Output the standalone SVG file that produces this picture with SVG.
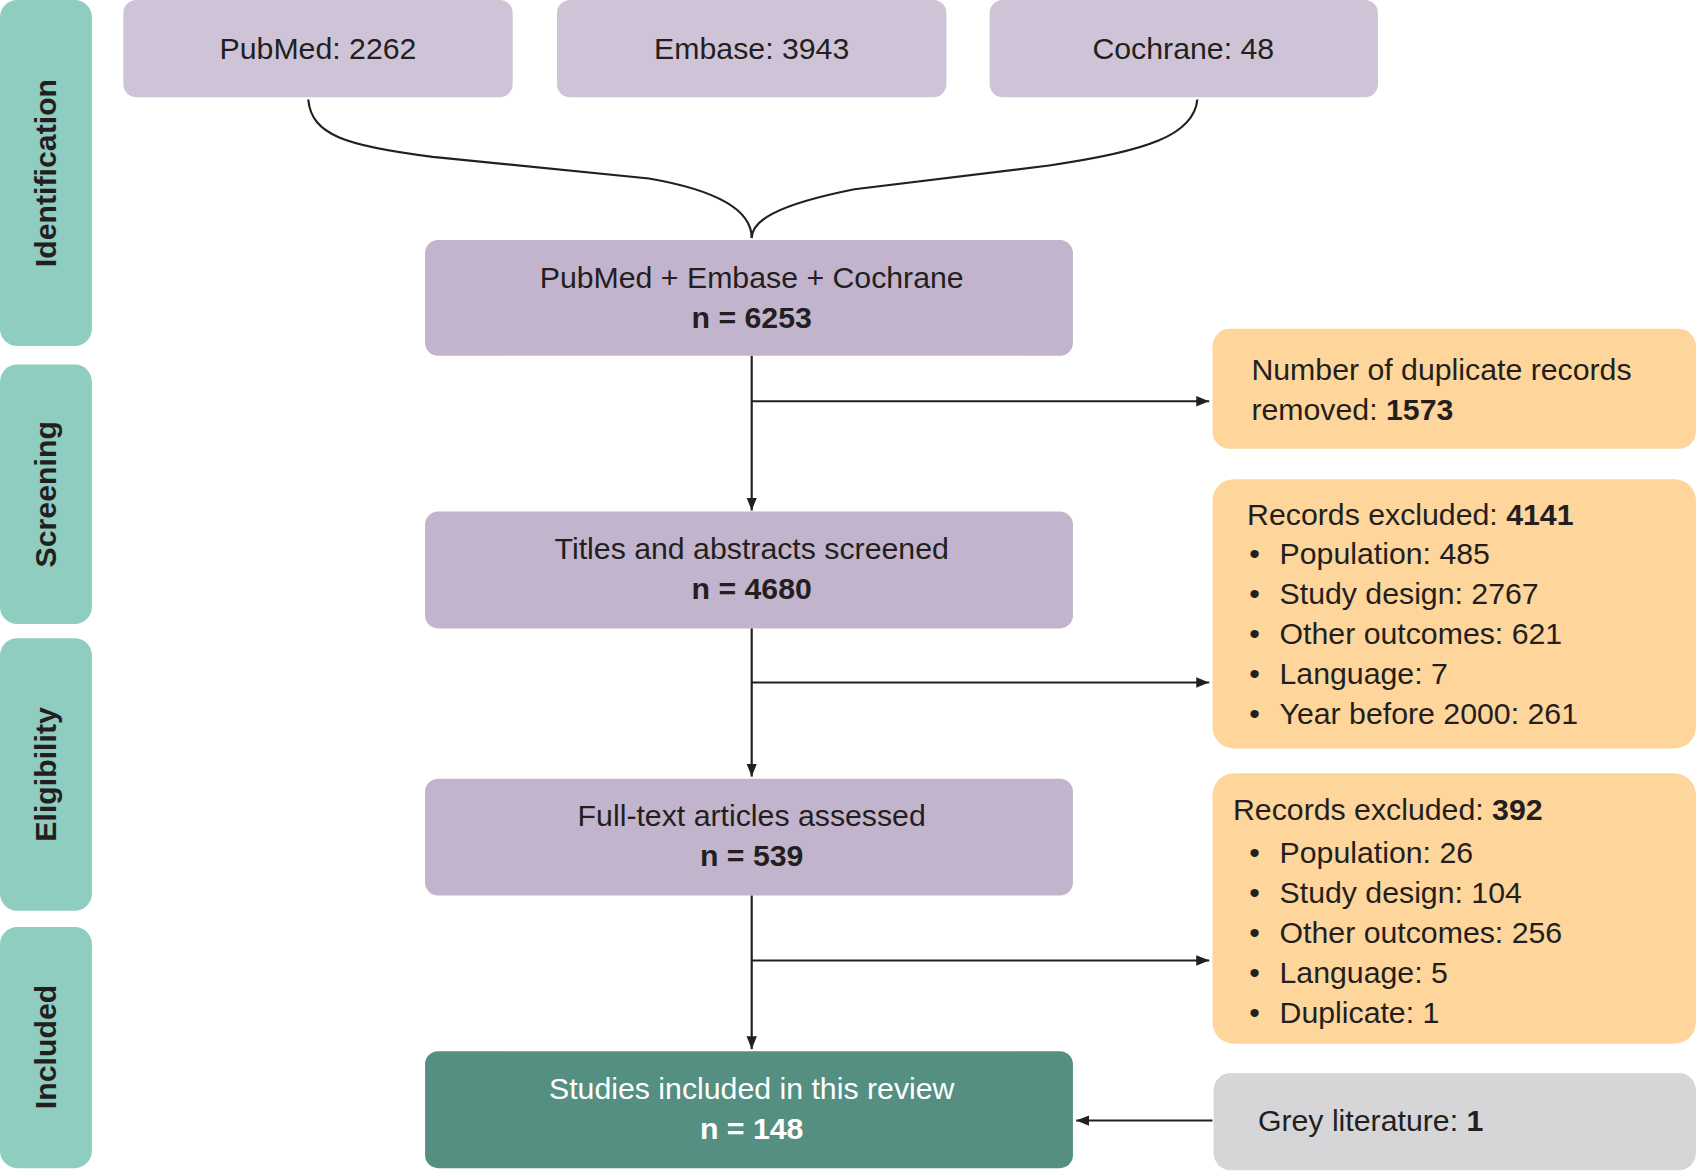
<svg xmlns="http://www.w3.org/2000/svg" width="1696" height="1171" viewBox="0 0 1696 1171">
<defs>
<style>
text{font-family:"Liberation Sans",Arial,sans-serif;font-size:28px;fill:#231f20}
.c{text-anchor:middle}
.b{font-weight:bold}
.side{fill:#8fcdc1}
.src{fill:#cfc4d7}
.main{fill:#c2b4cd}
.ex{fill:#fed59a}
.ln{stroke:#231f20;stroke-width:2;fill:none}
.w{fill:#fff}
</style>
<marker id="ar" viewBox="0 0 10 10" refX="10" refY="5" markerWidth="12" markerHeight="12" markerUnits="userSpaceOnUse" orient="auto"><path d="M0,1 L10,5 L0,9 Z" fill="#231f20"/></marker>
</defs>
<rect width="1696" height="1171" fill="#fff"/>
<g transform="scale(1.0816)">
<g id="phases">
<rect class="side" x="0" y="0" width="85" height="320" rx="16"/>
<rect class="side" x="0" y="337" width="85" height="240" rx="16"/>
<rect class="side" x="0" y="590" width="85" height="252" rx="16"/>
<rect class="side" x="0" y="857" width="85" height="223" rx="16"/>
<text class="c b" transform="translate(52,160) rotate(-90)">Identification</text>
<text class="c b" transform="translate(52,457) rotate(-90)">Screening</text>
<text class="c b" transform="translate(52,716) rotate(-90)">Eligibility</text>
<text class="c b" transform="translate(52,968) rotate(-90)">Included</text>
</g>
<g id="pubmed"><rect class="src" x="114" y="0" width="360" height="90" rx="12"/><text class="c" x="294" y="55">PubMed: 2262</text></g>
<g id="embase"><rect class="src" x="515" y="0" width="360" height="90" rx="12"/><text class="c" x="695" y="55">Embase: 3943</text></g>
<g id="cochrane"><rect class="src" x="915" y="0" width="359" height="90" rx="12"/><text class="c" x="1094" y="55">Cochrane: 48</text></g>
<g id="combined"><rect class="main" x="393" y="222" width="599" height="107" rx="12"/><text class="c" x="695" y="266">PubMed + Embase + Cochrane</text><text class="c b" x="695" y="303">n = 6253</text></g>
<g id="dup"><rect class="ex" x="1121" y="304" width="447" height="111" rx="16"/><text x="1157" y="351">Number of duplicate records</text><text x="1157" y="388">removed: <tspan class="b">1573</tspan></text></g>
<g id="titles"><rect class="main" x="393" y="473" width="599" height="108" rx="12"/><text class="c" x="695" y="517">Titles and abstracts screened</text><text class="c b" x="695" y="554">n = 4680</text></g>
<g id="excl1"><rect class="ex" x="1121" y="443" width="447" height="249" rx="20"/>
<text x="1153" y="485">Records excluded: <tspan class="b">4141</tspan></text>
<text x="1155" y="521">•</text><text x="1183" y="521">Population: 485</text>
<text x="1155" y="558">•</text><text x="1183" y="558">Study design: 2767</text>
<text x="1155" y="595">•</text><text x="1183" y="595">Other outcomes: 621</text>
<text x="1155" y="632">•</text><text x="1183" y="632">Language: 7</text>
<text x="1155" y="669">•</text><text x="1183" y="669">Year before 2000: 261</text></g>
<g id="fulltext"><rect class="main" x="393" y="720" width="599" height="108" rx="12"/><text class="c" x="695" y="764">Full-text articles assessed</text><text class="c b" x="695" y="801">n = 539</text></g>
<g id="excl2"><rect class="ex" x="1121" y="715" width="447" height="250" rx="20"/>
<text x="1140" y="758">Records excluded: <tspan class="b">392</tspan></text>
<text x="1155" y="798">•</text><text x="1183" y="798">Population: 26</text>
<text x="1155" y="835">•</text><text x="1183" y="835">Study design: 104</text>
<text x="1155" y="872">•</text><text x="1183" y="872">Other outcomes: 256</text>
<text x="1155" y="909">•</text><text x="1183" y="909">Language: 5</text>
<text x="1155" y="946">•</text><text x="1183" y="946">Duplicate: 1</text></g>
<g id="included"><rect fill="#548f82" x="393" y="972" width="599" height="108" rx="12"/><text class="c w" x="695" y="1016">Studies included in this review</text><text class="c b w" x="695" y="1053">n = 148</text></g>
<g id="grey"><rect fill="#d6d6d8" x="1122" y="992" width="446" height="90" rx="16"/><text x="1163" y="1046">Grey literature: <tspan class="b">1</tspan></text></g>
<g id="connectors">
<path class="ln" d="M285,92 C288,125 320,135 400,145 L600,165 C675,178 695,200 695,220"/>
<path class="ln" d="M1107,92 C1104,125 1060,140 970,153 L790,175 C715,190 695,205 695,220"/>
<path class="ln" d="M695,329 V472" marker-end="url(#ar)"/>
<path class="ln" d="M695,371 H1118" marker-end="url(#ar)"/>
<path class="ln" d="M695,581 V718" marker-end="url(#ar)"/>
<path class="ln" d="M695,631 H1118" marker-end="url(#ar)"/>
<path class="ln" d="M695,828 V970" marker-end="url(#ar)"/>
<path class="ln" d="M695,888 H1118" marker-end="url(#ar)"/>
<path class="ln" d="M1121,1036 H995" marker-end="url(#ar)"/>
</g>
</g>
</svg>
